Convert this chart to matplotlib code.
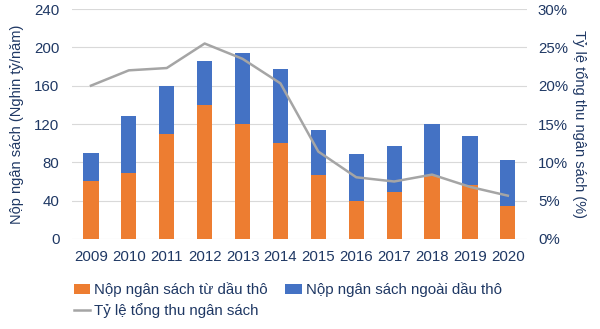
import matplotlib
matplotlib.use("Agg")
import matplotlib.pyplot as plt
import numpy as np
from matplotlib.ticker import FuncFormatter

plt.rcParams['font.family'] = ['Liberation Sans', 'DejaVu Sans']

# Dữ liệu
years = ['2009', '2010', '2011', '2012', '2013', '2014',
         '2015', '2016', '2017', '2018', '2019', '2020']
tu_dau_tho = [60, 69, 110, 140, 120, 100, 67, 40, 49, 66, 56, 34]
tong_nop = [90, 128, 160, 186, 194, 177, 114, 89, 97, 120, 107, 82]
ngoai_dau_tho = [t - d for t, d in zip(tong_nop, tu_dau_tho)]
ty_le = [20.0, 22.0, 22.3, 25.5, 23.5, 20.3, 11.4, 8.05, 7.5, 8.4, 6.8, 5.65]

text_color = '#1F3864'
orange = '#ED7D31'
blue = '#4472C4'
gray = '#A5A5A5'

fig = plt.figure(figsize=(6, 3.29), dpi=100)
ax = fig.add_axes([0.12, 0.2736, 0.758, 0.699])
x = np.arange(len(years))

ax.bar(x, tu_dau_tho, width=0.4, color=orange, label='Nộp ngân sách từ dầu thô', zorder=3)
ax.bar(x, ngoai_dau_tho, width=0.4, bottom=tu_dau_tho, color=blue,
       label='Nộp ngân sách ngoài dầu thô', zorder=3)

ax.set_xlim(-0.5, len(years) - 0.5)
ax.set_ylim(0, 240)
ax.set_yticks(range(0, 241, 40))
ax.set_xticks(x)
ax.set_xticklabels(years)
ax.grid(axis='y', color='#D9D9D9', linewidth=0.8, zorder=0)
for s in ax.spines.values():
    s.set_visible(False)
ax.tick_params(length=0, labelsize=10.8, colors=text_color)
ax.tick_params(axis='y', pad=9)
ax.tick_params(axis='x', pad=8)
ax.set_ylabel('Nộp ngân sách (Nghin tỷ/năm)', color=text_color, fontsize=10.5, labelpad=7)

ax2 = ax.twinx()
ax2.plot(x, ty_le, color=gray, linewidth=1.8, label='Tỷ lệ tổng thu ngân sách', zorder=4)
ax2.set_ylim(0, 30)
ax2.set_yticks(range(0, 31, 5))
ax2.yaxis.set_major_formatter(FuncFormatter(lambda v, p: f'{int(v)}%'))
for s in ax2.spines.values():
    s.set_visible(False)
ax2.tick_params(length=0, labelsize=10.8, colors=text_color, pad=8)
ax2.set_ylabel('Tỷ lệ tổng thu ngân sách (%)', color=text_color, fontsize=10.5,
               rotation=-90, labelpad=14)

h1, l1 = ax.get_legend_handles_labels()
h2, l2 = ax2.get_legend_handles_labels()
# thứ tự để hàng 1: cam, xanh; hàng 2: đường xám
handles = [h1[0], h2[0], h1[1]]
labels = [l1[0], l2[0], l1[1]]
fig.legend(handles, labels, loc='upper left', bbox_to_anchor=(0.11, 0.165),
           ncol=2, frameon=False, fontsize=10.8, labelcolor=text_color,
           handlelength=1.1, handletextpad=0.25, columnspacing=1.2,
           labelspacing=0.4, borderpad=0)

fig.savefig('out.png', dpi=100)
